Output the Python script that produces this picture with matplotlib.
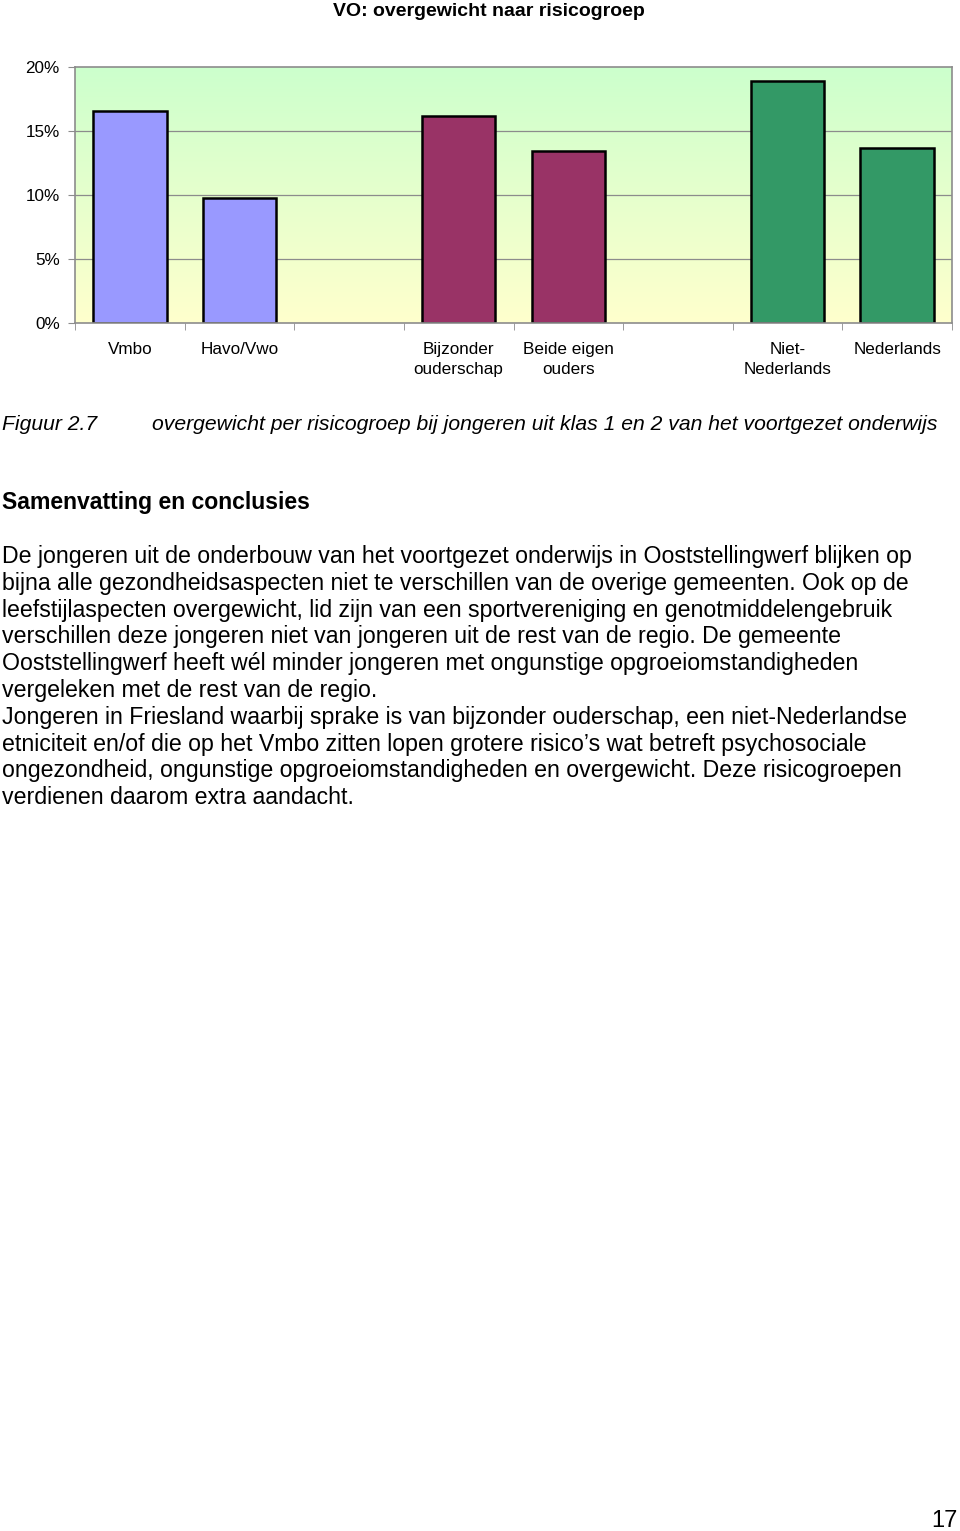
import matplotlib.pyplot as plt
import numpy as np

plt.rcParams['font.family'] = ['Liberation Sans', 'DejaVu Sans']

# data (percent)
categories = ["Vmbo", "Havo/Vwo", "", "Bijzonder\nouderschap", "Beide eigen\nouders",
              "", "Niet-\nNederlands", "Nederlands"]
values = [16.6, 9.8, np.nan, 16.2, 13.4, np.nan, 18.9, 13.7]
bar_colors = ["#9999FF", "#9999FF", "none", "#993366", "#993366", "none", "#339966", "#339966"]
yticks = [0, 5, 10, 15, 20]

body_lines = [
    "De jongeren uit de onderbouw van het voortgezet onderwijs in Ooststellingwerf blijken op",
    "bijna alle gezondheidsaspecten niet te verschillen van de overige gemeenten. Ook op de",
    "leefstijlaspecten overgewicht, lid zijn van een sportvereniging en genotmiddelengebruik",
    "verschillen deze jongeren niet van jongeren uit de rest van de regio. De gemeente",
    "Ooststellingwerf heeft wél minder jongeren met ongunstige opgroeiomstandigheden",
    "vergeleken met de rest van de regio.",
    "Jongeren in Friesland waarbij sprake is van bijzonder ouderschap, een niet-Nederlandse",
    "etniciteit en/of die op het Vmbo zitten lopen grotere risico\u2019s wat betreft psychosociale",
    "ongezondheid, ongunstige opgroeiomstandigheden en overgewicht. Deze risicogroepen",
    "verdienen daarom extra aandacht.",
]

W, H = 960, 1531
fig = plt.figure(figsize=(W / 100, H / 100), dpi=100)

def fy(py):
    return 1 - py / H

ax = fig.add_axes([75 / W, fy(323), 877 / W, 256 / H])
x = np.arange(len(categories))

# gradient background: green at top, yellow at bottom
grad = np.linspace(0, 1, 256)[:, None]
top = np.array([204, 255, 204]) / 255
bot = np.array([255, 255, 204]) / 255
img = top[None, None, :] * (1 - grad[:, :, None]) + bot[None, None, :] * grad[:, :, None]
ax.imshow(img, extent=[-0.5, len(categories) - 0.5, 0, 20], aspect='auto', zorder=0)

for yv in yticks[1:-1]:
    ax.axhline(yv, color='#8c8c8c', lw=0.9, zorder=1)

ax.bar(x, values, width=0.67, color=bar_colors, edgecolor='black', lw=1.8, zorder=2)

ax.set_xlim(-0.5, len(categories) - 0.5)
ax.set_ylim(0, 20)
ax.set_yticks(yticks)
ax.set_yticklabels([f"{v}%" for v in yticks], fontsize=12.3)
ax.set_xticks(x)
ax.set_xticklabels(categories, fontsize=12.3, linespacing=1.35)
ax.set_xticks(np.arange(-0.5, len(categories)), minor=True)
ax.tick_params(axis='x', which='major', length=0, pad=14)
ax.tick_params(axis='x', which='minor', length=5, color='#8c8c8c')
ax.tick_params(axis='y', length=5, color='#8c8c8c', pad=6)
for s in ax.spines.values():
    s.set_color('#8c8c8c')
    s.set_linewidth(1.2)

fig.text(489 / W, fy(11), "VO: overgewicht naar risicogroep", ha='center', va='center',
         fontsize=14, fontweight='bold')

fig.text(2 / W, fy(430), "Figuur 2.7", fontsize=15.2, style='italic', va='baseline')
fig.text(152 / W, fy(430), "overgewicht per risicogroep bij jongeren uit klas 1 en 2 van het voortgezet onderwijs",
         fontsize=15.2, style='italic', va='baseline')

fig.text(2 / W, fy(509), "Samenvatting en conclusies", fontsize=16.6, fontweight='bold', va='baseline')

for i, line in enumerate(body_lines):
    fig.text(2 / W, fy(563 + 26.8 * i), line, fontsize=16.7, va='baseline')

fig.text(958 / W, fy(1527), "17", fontsize=17, ha='right', va='baseline')

fig.savefig("out.png", dpi=100)
